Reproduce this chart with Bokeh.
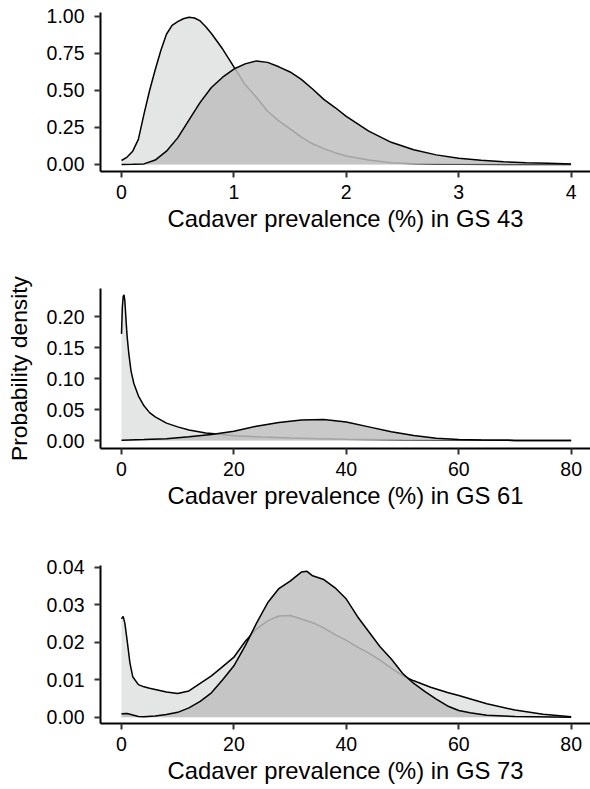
from bokeh.plotting import figure
from bokeh.layouts import column
from bokeh.models import FixedTicker, Range1d
from bokeh.embed import file_html
from bokeh.resources import INLINE

# ---------------- data ----------------
# GS 43 (x in %)
gs43_light_x = [0, 0.05, 0.1, 0.15, 0.2, 0.25, 0.3, 0.35, 0.4, 0.45, 0.5, 0.55, 0.6, 0.65,
                0.7, 0.75, 0.8, 0.9, 1.0, 1.1, 1.2, 1.3, 1.4, 1.5, 1.6, 1.7, 1.8, 1.9, 2.0,
                2.2, 2.4, 2.6, 2.8, 3.0, 3.5, 4.0]
gs43_light_y = [0.027, 0.05, 0.09, 0.17, 0.34, 0.50, 0.64, 0.77, 0.88, 0.94, 0.965, 0.985,
                0.995, 0.99, 0.97, 0.93, 0.885, 0.78, 0.66, 0.54, 0.455, 0.36, 0.295, 0.24,
                0.185, 0.14, 0.107, 0.08, 0.058, 0.03, 0.012, 0.005, 0.002, 0.001, 0.0, 0.0]
gs43_dark_x = [0, 0.1, 0.2, 0.3, 0.4, 0.5, 0.6, 0.7, 0.8, 0.9, 1.0, 1.1, 1.2, 1.3, 1.4, 1.5,
               1.6, 1.7, 1.8, 1.9, 2.0, 2.2, 2.4, 2.6, 2.8, 3.0, 3.2, 3.4, 3.6, 3.8, 4.0]
gs43_dark_y = [0.0, 0.001, 0.004, 0.03, 0.09, 0.18, 0.30, 0.42, 0.52, 0.59, 0.645, 0.68,
               0.70, 0.69, 0.66, 0.625, 0.575, 0.51, 0.44, 0.385, 0.325, 0.225, 0.15, 0.1,
               0.065, 0.043, 0.028, 0.018, 0.012, 0.008, 0.004]

# GS 61
gs61_light_x = [0, 0.15, 0.3, 0.45, 0.6, 0.8, 1.0, 1.3, 1.7, 2.2, 3, 4, 5, 6, 8, 10, 12, 15,
                18, 20, 25, 30, 35, 40, 50, 60, 70, 80]
gs61_light_y = [0.172, 0.215, 0.232, 0.235, 0.225, 0.195, 0.168, 0.14, 0.112, 0.092, 0.072,
                0.056, 0.045, 0.038, 0.028, 0.022, 0.017, 0.012, 0.0095, 0.0078, 0.0055,
                0.004, 0.003, 0.002, 0.001, 0.0005, 0.0002, 0.0001]
gs61_dark_x = [0, 4, 8, 12, 16, 20, 24, 28, 32, 36, 40, 44, 48, 52, 56, 60, 64, 70, 80]
gs61_dark_y = [0.0005, 0.0015, 0.003, 0.006, 0.0095, 0.015, 0.023, 0.029, 0.033, 0.034,
               0.030, 0.022, 0.014, 0.008, 0.0035, 0.0015, 0.0007, 0.0002, 0.0]

# GS 73
gs73_light_x = [0, 0.3, 0.6, 1, 1.5, 2, 3, 4, 5, 6, 8, 10, 12, 14, 16, 18, 20, 22, 24, 26,
                28, 30, 32, 34, 36, 38, 40, 42, 44, 46, 48, 50, 52, 55, 58, 60, 65, 70, 75, 80]
gs73_light_y = [0.0262, 0.0269, 0.025, 0.0205, 0.0145, 0.0108, 0.0087, 0.0081, 0.0077,
                0.0074, 0.0067, 0.0063, 0.0070, 0.0090, 0.0110, 0.0135, 0.0160, 0.0202,
                0.0235, 0.0257, 0.0270, 0.0271, 0.0262, 0.0252, 0.0238, 0.0220, 0.0205,
                0.0187, 0.0171, 0.0152, 0.0131, 0.0111, 0.0097, 0.0080, 0.0066, 0.0058,
                0.0036, 0.0019, 0.0008, 0.0001]
gs73_dark_x = [0, 1, 2, 3, 4, 6, 8, 10, 12, 14, 16, 18, 20, 22, 24, 26, 28, 30, 31, 32, 33,
               34, 36, 38, 40, 42, 44, 46, 48, 50, 52, 54, 56, 58, 60, 62, 65, 70, 80]
gs73_dark_y = [0.0009, 0.001, 0.0006, 0.0002, 0.0001, 0.0003, 0.0007, 0.0013, 0.0025,
               0.0042, 0.0065, 0.0100, 0.0137, 0.0190, 0.0250, 0.0305, 0.0343, 0.0363,
               0.0375, 0.0387, 0.0389, 0.0377, 0.0367, 0.0345, 0.0315, 0.0268, 0.0228,
               0.0188, 0.0155, 0.0117, 0.0090, 0.0068, 0.0048, 0.0030, 0.0018, 0.0012,
               0.0005, 0.0002, 0.0]

# ticks / labels
x_ticks_43 = [0, 1, 2, 3, 4]
x_labels_43 = ["0", "1", "2", "3", "4"]
y_ticks_43 = [0, 0.25, 0.5, 0.75, 1.0]
y_labels_43 = ["0.00", "0.25", "0.50", "0.75", "1.00"]

x_ticks_pct = [0, 20, 40, 60, 80]
x_labels_pct = ["0", "20", "40", "60", "80"]
y_ticks_61 = [0, 0.05, 0.1, 0.15, 0.2]
y_labels_61 = ["0.00", "0.05", "0.10", "0.15", "0.20"]
y_ticks_73 = [0, 0.01, 0.02, 0.03, 0.04]
y_labels_73 = ["0.00", "0.01", "0.02", "0.03", "0.04"]

x_titles = ["Cadaver prevalence (%) in GS 43",
            "Cadaver prevalence (%) in GS 61",
            "Cadaver prevalence (%) in GS 73"]
y_title = "Probability density"

# ---------------- styling ----------------
FONT = "Liberation Sans"
LIGHT = "#e4e5e5"
DARK = "#bfbfbf"
TICK_SIZE = "19.5px"
TITLE_SIZE = "23.8px"
YTITLE_SIZE = "22.8px"
W = 590
LEFT = 100


def make_panel(lx, ly, dx, dy, xr, yr, xt, xl, yt, yl, xlabel, ylabel,
               height, btop, bbot):
    p = figure(width=W, height=height,
               x_range=Range1d(*xr), y_range=Range1d(*yr),
               output_backend="svg", toolbar_location=None,
               min_border_left=LEFT, min_border_right=0,
               min_border_top=btop, min_border_bottom=bbot)
    p.outline_line_color = None
    p.grid.visible = False
    p.background_fill_color = "white"
    p.border_fill_color = "white"

    p.varea(x=lx, y1=[0] * len(lx), y2=ly, fill_color=LIGHT, fill_alpha=1.0)
    p.line(lx, ly, line_color="black", line_width=1.5)
    p.varea(x=dx, y1=[0] * len(dx), y2=dy, fill_color=DARK, fill_alpha=0.85)
    p.line(dx, dy, line_color="black", line_width=1.5)

    for ax in (p.xaxis[0], p.yaxis[0]):
        ax.axis_line_color = "black"
        ax.axis_line_width = 2
        ax.major_tick_line_color = "#333333"
        ax.major_tick_line_width = 2
        ax.major_tick_in = 0
        ax.major_tick_out = 6
        ax.minor_tick_line_color = None
        ax.major_label_text_font = FONT
        ax.major_label_text_font_size = TICK_SIZE
        ax.major_label_text_color = "black"
        ax.axis_label_text_font = FONT
        ax.axis_label_text_font_size = TITLE_SIZE
        ax.axis_label_text_font_style = "normal"
        ax.axis_label_text_color = "black"

    p.xaxis.ticker = FixedTicker(ticks=xt)
    p.xaxis.major_label_overrides = dict(zip(xt, xl))
    p.xaxis.major_label_standoff = 7
    p.xaxis.axis_label = xlabel
    p.xaxis.axis_label_standoff = 3

    p.yaxis.ticker = FixedTicker(ticks=yt)
    p.yaxis.major_label_overrides = dict(zip(yt, yl))
    p.yaxis.major_label_standoff = 10
    if ylabel:
        p.yaxis.axis_label = ylabel
        p.yaxis.axis_label_text_font_size = YTITLE_SIZE
        p.yaxis.axis_label_standoff = 12
    return p


# panel 1: frame 12..171 ; panel 2: frame 288..448 ; panel 3: frame 565..723
p1 = make_panel(gs43_light_x, gs43_light_y, gs43_dark_x, gs43_dark_y,
                (-0.1868, 4.173), (-0.0473, 1.027),
                x_ticks_43, x_labels_43, y_ticks_43, y_labels_43,
                x_titles[0], None, 251, 12, 80)
p2 = make_panel(gs61_light_x, gs61_light_y, gs61_dark_x, gs61_dark_y,
                (-3.736, 83.44), (-0.0129, 0.2452),
                x_ticks_pct, x_labels_pct, y_ticks_61, y_labels_61,
                x_titles[1], y_title, 302, 37, 105)
p3 = make_panel(gs73_light_x, gs73_light_y, gs73_dark_x, gs73_dark_y,
                (-3.736, 83.44), (-0.00168, 0.04045),
                x_ticks_pct, x_labels_pct, y_ticks_73, y_labels_73,
                x_titles[2], None, 236, 12, 66)

layout = column(p1, p2, p3)
open("out.html", "w").write(file_html(layout, INLINE))
